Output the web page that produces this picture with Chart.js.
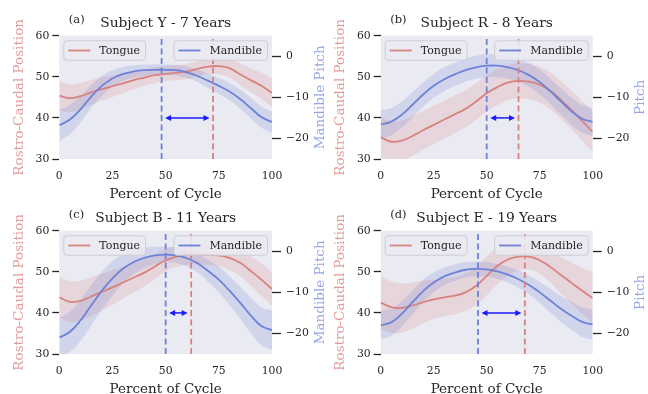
<!DOCTYPE html>
<html lang="en">
<head>
<meta charset="UTF-8">
<title>Tongue and mandible over the cycle</title>
<script src="https://cdn.jsdelivr.net/npm/chart.js"></script>
<style>
  body { margin: 0; background: #fff; }
  #wrap { position: relative; width: 648px; height: 394px; overflow: hidden; }
  #wrap canvas { position: absolute; left: 0; top: 0; }
</style>
</head>
<body>
<div id="wrap">
  <canvas id="pa" width="648" height="394"></canvas>
  <canvas id="pb" width="648" height="394"></canvas>
  <canvas id="pc" width="648" height="394"></canvas>
  <canvas id="pd" width="648" height="394"></canvas>
</div>

<script>
  // percent of cycle, shared by every panel
  const percent = [0, 5, 10, 15, 20, 25, 30, 35, 40, 45, 50, 55, 60, 65, 70, 75, 80, 85, 90, 95, 100];

  // (a) Subject Y - 7 years
  const tongueA   = [45.4, 44.8, 45.3, 46.2, 47.0, 47.7, 48.4, 49.2, 49.8, 50.4, 50.7, 51.0, 51.3, 51.9, 52.5, 52.6, 52.1, 50.6, 49.2, 47.8, 46.1];
  const tongueSdA = [3.6, 3.4, 3.2, 3.0, 2.8, 2.6, 2.4, 2.2, 2.0, 1.9, 1.8, 1.8, 1.8, 1.8, 1.9, 2.0, 2.3, 2.6, 2.9, 3.2, 3.4];
  const pitchA    = [-16.8, -15.4, -12.9, -9.8, -7.2, -5.4, -4.3, -3.7, -3.4, -3.3, -3.3, -3.4, -3.9, -4.8, -6.0, -7.2, -8.6, -10.4, -12.6, -14.8, -16.0];
  const pitchSdA  = [3.8, 3.6, 3.2, 2.8, 2.4, 2.0, 1.7, 1.5, 1.4, 1.3, 1.3, 1.3, 1.4, 1.5, 1.7, 1.9, 2.1, 2.3, 2.5, 2.6, 2.6];
  const peaksA    = [48.1, 72.3]; // mandible peak, tongue peak

  // (b) Subject R - 8 years
  const tongueB   = [35.3, 34.2, 34.5, 35.6, 37.0, 38.3, 39.6, 40.9, 42.2, 44.0, 46.0, 47.5, 48.6, 49.0, 48.8, 48.1, 46.6, 44.4, 41.9, 39.3, 36.6];
  const tongueSdB = [5.0, 5.0, 4.9, 4.8, 4.7, 4.7, 4.6, 4.6, 4.5, 4.5, 4.4, 4.4, 4.3, 4.3, 4.3, 4.4, 4.5, 4.6, 4.7, 4.8, 4.9];
  const pitchB    = [-16.6, -15.9, -14.2, -11.8, -9.3, -7.2, -5.6, -4.4, -3.4, -2.7, -2.3, -2.3, -2.7, -3.4, -4.6, -6.3, -8.5, -11.0, -13.4, -15.2, -16.0];
  const pitchSdB  = [3.4, 3.3, 3.2, 3.1, 3.0, 2.9, 2.9, 2.8, 2.8, 2.8, 2.8, 2.8, 2.8, 2.8, 2.9, 3.0, 3.1, 3.2, 3.3, 3.4, 3.5];
  const peaksB    = [50.0, 65.0];

  // (c) Subject B - 11 years
  const tongueC   = [43.8, 42.7, 42.9, 44.0, 45.1, 46.2, 47.4, 48.6, 49.8, 51.3, 52.8, 53.7, 54.1, 54.2, 54.1, 54.0, 53.4, 52.2, 50.2, 48.1, 45.8];
  const tongueSdC = [5.0, 5.0, 4.9, 4.7, 4.5, 4.2, 3.9, 3.6, 3.3, 3.0, 2.7, 2.5, 2.4, 2.4, 2.5, 2.7, 3.0, 3.3, 3.6, 3.9, 4.1];
  const pitchC    = [-21.0, -19.6, -16.8, -13.2, -9.6, -6.6, -4.2, -2.6, -1.6, -1.0, -0.8, -1.0, -1.7, -2.9, -4.8, -6.9, -9.6, -12.5, -15.6, -18.2, -19.2];
  const pitchSdC  = [4.8, 4.9, 5.0, 4.9, 4.6, 4.2, 3.6, 3.0, 2.5, 2.1, 1.9, 1.9, 2.0, 2.3, 2.7, 3.1, 3.5, 3.9, 4.3, 4.6, 4.8];
  const peaksC    = [50.0, 62.0];

  // (d) Subject E - 19 years
  const tongueD   = [42.5, 41.4, 41.2, 41.8, 42.6, 43.3, 43.8, 44.2, 45.0, 46.6, 49.0, 51.4, 53.0, 53.7, 53.7, 52.8, 51.2, 49.2, 47.3, 45.4, 43.6];
  const tongueSdD = [6.5, 6.3, 6.0, 5.6, 5.2, 4.8, 4.6, 4.5, 4.5, 4.6, 4.7, 4.5, 4.0, 3.4, 3.1, 3.3, 3.8, 4.4, 5.0, 5.6, 6.2];
  const pitchD    = [-18.0, -17.3, -15.2, -12.4, -9.7, -7.6, -6.1, -5.2, -4.5, -4.3, -4.4, -4.9, -5.7, -6.8, -8.2, -10.0, -12.0, -14.0, -15.7, -17.2, -17.8];
  const pitchSdD  = [3.4, 3.3, 3.1, 2.9, 2.7, 2.4, 2.2, 2.0, 1.9, 1.8, 1.8, 1.8, 1.9, 2.1, 2.3, 2.6, 2.9, 3.2, 3.4, 3.6, 3.7];
  const peaksD    = [45.9, 68.0];

  const tags = ['(a)', '(b)', '(c)', '(d)'];
  const titles = ['Subject Y - 7 Years', 'Subject R - 8 Years', 'Subject B - 11 Years', 'Subject E - 19 Years'];
  const xTicks = [0, 25, 50, 75, 100];
  const posTicks = [30, 40, 50, 60];
  const pitchTicks = [-20, -10, 0];
  const arrowLevel = 40;

  const W = 648, H = 394;
  const SERIF = '"DejaVu Serif", serif';
  const INK = '#262626';
  const RED = '#d8827f';
  const BLUE = '#6d82d8';
  const RED_FILL = 'rgba(216,130,127,0.2)';
  const BLUE_FILL = 'rgba(109,130,216,0.2)';
  const ARROW = '#1a1aff';

  // plot rectangles in page pixels
  const areas = [
    { left: 59.3,  top: 35.7,  right: 272,   bottom: 159 },
    { left: 380.7, top: 35.7,  right: 592.7, bottom: 159 },
    { left: 59.3,  top: 230.7, right: 272,   bottom: 354 },
    { left: 380.7, top: 230.7, right: 592.7, bottom: 354 }
  ];

  const panels = [
    { tongue: tongueA, tSd: tongueSdA, pitch: pitchA, pSd: pitchSdA, peaks: peaksA, rightLabel: 'Mandible Pitch' },
    { tongue: tongueB, tSd: tongueSdB, pitch: pitchB, pSd: pitchSdB, peaks: peaksB, rightLabel: 'Pitch' },
    { tongue: tongueC, tSd: tongueSdC, pitch: pitchC, pSd: pitchSdC, peaks: peaksC, rightLabel: 'Mandible Pitch' },
    { tongue: tongueD, tSd: tongueSdD, pitch: pitchD, pSd: pitchSdD, peaks: peaksD, rightLabel: 'Pitch' }
  ];

  const pts = arr => percent.map((x, i) => ({ x: x, y: arr[i] }));
  const shift = (arr, sd, k) => arr.map((v, i) => v + k * sd[i]);
  const minus = v => v < 0 ? '\u2212' + Math.abs(v) : String(v);

  function band(data, axis, fill, target, color) {
    return {
      data: pts(data), yAxisID: axis, fill: target, backgroundColor: color,
      borderWidth: 0, pointRadius: 0, tension: 0.4, order: fill
    };
  }

  function drawLegend(ctx, x, y, label, color, alignRight) {
    ctx.font = '11px ' + SERIF;
    const tw = ctx.measureText(label).width;
    const w = 4 + 22 + 9 + tw + 6, h = 19.4;
    const bx = alignRight ? x - w : x;
    ctx.fillStyle = 'rgba(234,234,242,0.85)';
    ctx.strokeStyle = '#cdcdd4';
    ctx.lineWidth = 1;
    ctx.beginPath();
    ctx.roundRect(bx + 0.5, y + 0.5, w, h, 3);
    ctx.fill();
    ctx.stroke();
    ctx.strokeStyle = color;
    ctx.lineWidth = 1.8;
    ctx.beginPath();
    ctx.moveTo(bx + 5, y + h / 2 + 0.5);
    ctx.lineTo(bx + 27, y + h / 2 + 0.5);
    ctx.stroke();
    ctx.fillStyle = INK;
    ctx.textAlign = 'left';
    ctx.textBaseline = 'middle';
    ctx.fillText(label, bx + 36, y + h / 2 + 1);
  }

  function arrowHead(ctx, x, y, dir) {
    ctx.beginPath();
    ctx.moveTo(x, y);
    ctx.lineTo(x - dir * 6, y - 3);
    ctx.lineTo(x - dir * 6, y + 3);
    ctx.closePath();
    ctx.fill();
  }

  const decor = {
    id: 'decor',
    beforeDraw(chart, args, o) {
      const a = chart.chartArea, ctx = chart.ctx;
      ctx.save();
      ctx.fillStyle = '#eaeaf2';
      ctx.fillRect(a.left, a.top, a.right - a.left, a.bottom - a.top);
      ctx.restore();
    },
    afterDatasetsDraw(chart, args, o) {
      const a = chart.chartArea, ctx = chart.ctx;
      const xs = chart.scales.x, ys = chart.scales.y;
      const p = o.panel;
      ctx.save();
      // double arrow between the two peaks
      const yA = ys.getPixelForValue(arrowLevel);
      const x1 = xs.getPixelForValue(p.peaks[0]) + 3.5;
      const x2 = xs.getPixelForValue(p.peaks[1]) - 3.5;
      ctx.strokeStyle = ARROW;
      ctx.fillStyle = ARROW;
      ctx.lineWidth = 1.5;
      ctx.beginPath();
      ctx.moveTo(x1 + 4, yA);
      ctx.lineTo(x2 - 4, yA);
      ctx.stroke();
      arrowHead(ctx, x1, yA, -1);
      arrowHead(ctx, x2, yA, 1);
      // legends
      drawLegend(ctx, a.left + 4, a.top + 4.6, 'Tongue', RED, false);
      drawLegend(ctx, a.right - 5, a.top + 4.6, 'Mandible', BLUE, true);
      ctx.restore();
    },
    afterDraw(chart, args, o) {
      const a = chart.chartArea, ctx = chart.ctx;
      const p = o.panel;
      const cx = (a.left + a.right) / 2, cy = (a.top + a.bottom) / 2;
      ctx.save();
      ctx.fillStyle = INK;
      ctx.textBaseline = 'alphabetic';
      ctx.textAlign = 'left';
      ctx.font = '11.5px ' + SERIF;
      ctx.fillText(o.tag, a.left + 9.5, a.top - 12.5);
      ctx.textAlign = 'center';
      ctx.font = '13.8px ' + SERIF;
      ctx.fillText(o.title, cx, a.top - 8.5);
      ctx.font = '13.5px ' + SERIF;
      ctx.fillText('Percent of Cycle', cx, a.bottom + 38.5);
      ctx.textBaseline = 'middle';
      ctx.save();
      ctx.translate(a.left - 40.3, cy);
      ctx.rotate(-Math.PI / 2);
      ctx.fillStyle = '#e39c9a';
      ctx.fillText('Rostro-Caudal Position', 0, 0);
      ctx.restore();
      ctx.save();
      ctx.translate(a.right + 48, cy);
      ctx.rotate(-Math.PI / 2);
      ctx.fillStyle = '#97a4e6';
      ctx.fillText(p.rightLabel, 0, 0);
      ctx.restore();
      ctx.restore();
    }
  };

  ['pa', 'pb', 'pc', 'pd'].forEach((id, k) => {
    const p = panels[k], box = areas[k];
    const vline = (x, color) => ({
      data: [{ x: x, y: 30 }, { x: x, y: 60 }], yAxisID: 'y',
      borderColor: color, borderWidth: 1.8, borderDash: [6, 3.5],
      pointRadius: 0, fill: false, order: 0
    });
    new Chart(document.getElementById(id).getContext('2d'), {
      type: 'line',
      data: {
        datasets: [
          band(shift(p.tongue, p.tSd, 1), 'y', 6, '+1', RED_FILL),
          band(shift(p.tongue, p.tSd, -1), 'y', 6, false, RED_FILL),
          band(shift(p.pitch, p.pSd, 1), 'y1', 5, '+1', BLUE_FILL),
          band(shift(p.pitch, p.pSd, -1), 'y1', 5, false, BLUE_FILL),
          { label: 'Tongue', data: pts(p.tongue), yAxisID: 'y', borderColor: RED, borderWidth: 1.8,
            pointRadius: 0, fill: false, tension: 0.4, order: 2 },
          { label: 'Mandible', data: pts(p.pitch), yAxisID: 'y1', borderColor: BLUE, borderWidth: 1.8,
            pointRadius: 0, fill: false, tension: 0.4, order: 1 },
          vline(p.peaks[0], BLUE),
          vline(p.peaks[1], RED)
        ]
      },
      options: {
        responsive: false,
        animation: false,
        events: [],
        layout: { padding: { top: box.top, left: 0, right: 0, bottom: 0 } },
        plugins: {
          legend: { display: false },
          tooltip: { enabled: false },
          decor: { panel: p, tag: tags[k], title: titles[k] }
        },
        scales: {
          x: {
            type: 'linear', min: 0, max: 100,
            afterBuildTicks: s => { s.ticks = xTicks.map(v => ({ value: v })); },
            afterFit: s => { s.height = H - box.bottom; },
            grid: { display: false, drawTicks: false },
            border: { display: false },
            ticks: { color: INK, font: { family: SERIF, size: 10.8 }, padding: 10.5, maxRotation: 0, autoSkip: false }
          },
          y: {
            position: 'left', min: 30, max: 60,
            afterBuildTicks: s => { s.ticks = posTicks.map(v => ({ value: v })); },
            afterFit: s => { s.width = box.left; },
            grid: { drawOnChartArea: false, drawTicks: true, tickLength: 7, tickColor: INK, tickWidth: 1.3 },
            border: { display: false },
            ticks: { color: INK, font: { family: SERIF, size: 10.8 }, padding: 3 }
          },
          y1: {
            position: 'right', min: -25, max: 5,
            afterBuildTicks: s => { s.ticks = pitchTicks.map(v => ({ value: v })); },
            afterFit: s => { s.width = W - box.right; },
            grid: { drawOnChartArea: false, drawTicks: true, tickLength: 9, tickColor: INK, tickWidth: 1.3 },
            border: { display: false },
            ticks: { color: INK, font: { family: SERIF, size: 10.8 }, padding: 5, callback: v => minus(v) }
          }
        }
      },
      plugins: [decor]
    });
  });
</script>
</body>
</html>
